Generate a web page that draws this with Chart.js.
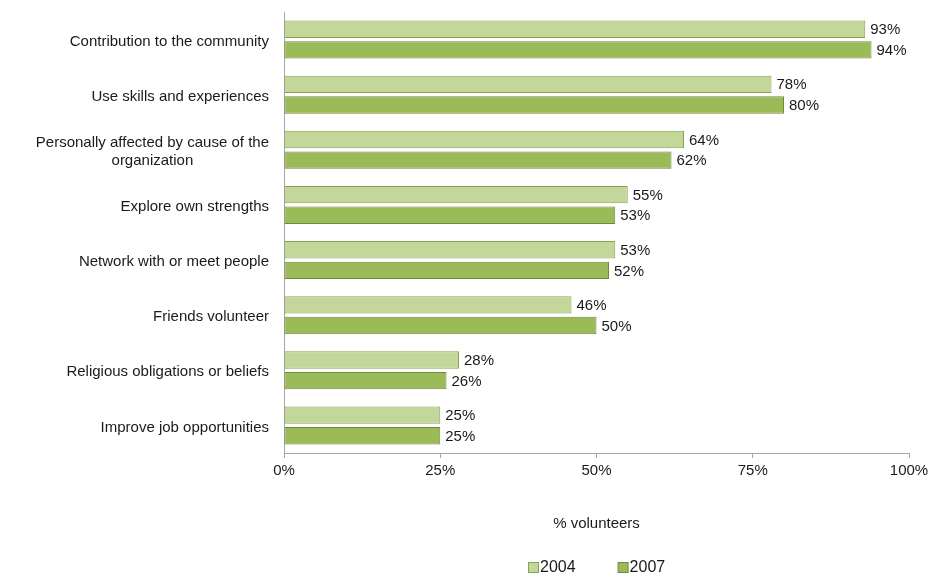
<!DOCTYPE html>
<html>
<head>
<meta charset="utf-8">
<script src="https://cdn.jsdelivr.net/npm/chart.js@4"></script>
<style>
  html, body { margin: 0; padding: 0; background: #fff; }
  #wrap { width: 930px; height: 576px; }
</style>
</head>
<body>
<div id="wrap"><canvas id="motivosCanvas" width="930" height="576"></canvas></div>
<script>
const categorias = [
    ['Contribution to the community'],
    ['Use skills and experiences'],
    ['Personally affected by cause of the', 'organization'],
    ['Explore own strengths'],
    ['Network with or meet people'],
    ['Friends volunteer'],
    ['Religious obligations or beliefs'],
    ['Improve job opportunities']
];
const valores2004 = [93, 78, 64, 55, 53, 46, 28, 25];
const valores2007 = [94, 80, 62, 53, 52, 50, 26, 25];
const ticksX = [0, 25, 50, 75, 100];

const fuente = '"Liberation Sans", Arial, sans-serif';
const colorTexto = '#1a1a1a';

// etiquetas de valor al final de cada barra
const etiquetasPlugin = {
    id: 'etiquetas',
    afterDatasetsDraw(chart) {
        const ctx = chart.ctx;
        ctx.save();
        ctx.font = '15px ' + fuente;
        ctx.fillStyle = colorTexto;
        ctx.textAlign = 'left';
        ctx.textBaseline = 'middle';
        chart.data.datasets.forEach((ds, i) => {
            chart.getDatasetMeta(i).data.forEach((bar, j) => {
                ctx.fillText(ds.data[j] + '%', bar.x + 5, bar.y + 1);
            });
        });
        ctx.restore();
    }
};

// etiquetas del eje y: bloque alineado a la derecha, lineas centradas
const ejeYPlugin = {
    id: 'ejeY',
    afterDraw(chart) {
        const ctx = chart.ctx;
        const y = chart.scales.y;
        ctx.save();
        ctx.font = '15px ' + fuente;
        ctx.fillStyle = colorTexto;
        ctx.textBaseline = 'middle';
        ctx.textAlign = 'center';
        const derecha = y.right - 15;
        categorias.forEach((lineas, i) => {
            const cy = y.getPixelForTick(i) + 2;
            const ancho = Math.max(...lineas.map(l => ctx.measureText(l).width));
            const centro = derecha - ancho / 2;
            const inicio = cy - (lineas.length - 1) * 18 / 2;
            lineas.forEach((l, k) => ctx.fillText(l, centro, inicio + k * 18));
        });
        ctx.restore();
    }
};

// leyenda abajo, centrada bajo el area del grafico
const leyendaPlugin = {
    id: 'leyenda',
    afterDraw(chart) {
        const ctx = chart.ctx;
        const area = chart.chartArea;
        ctx.save();
        ctx.font = '16px ' + fuente;
        ctx.textBaseline = 'middle';
        ctx.textAlign = 'left';
        const sep = 42;
        const anchos = chart.data.datasets.map(ds => 12 + ctx.measureText(ds.label).width);
        const total = anchos.reduce((a, b) => a + b, 0) + sep * (anchos.length - 1);
        let x = Math.round((area.left + area.right) / 2 - total / 2);
        const y = 567;
        chart.data.datasets.forEach((ds, i) => {
            ctx.fillStyle = ds.backgroundColor;
            ctx.fillRect(x + 0.5, y - 4.5, 10, 10);
            ctx.strokeStyle = ds.borderColor;
            ctx.lineWidth = 1;
            ctx.strokeRect(x + 0.5, y - 4.5, 10, 10);
            ctx.fillStyle = colorTexto;
            ctx.fillText(ds.label, x + 12, y + 1);
            x += anchos[i] + sep;
        });
        ctx.restore();
    }
};

const ctx = document.getElementById('motivosCanvas').getContext('2d');
new Chart(ctx, {
    type: 'bar',
    data: {
        labels: categorias,
        datasets: [{
            label: '2004',
            data: valores2004,
            backgroundColor: '#C4D79B',
            borderColor: '#87A34F',
            borderWidth: 1,
            borderSkipped: false,
            categoryPercentage: 0.75,
            barPercentage: 0.84
        }, {
            label: '2007',
            data: valores2007,
            backgroundColor: '#9BBB59',
            borderColor: '#71893F',
            borderWidth: 1,
            borderSkipped: false,
            categoryPercentage: 0.75,
            barPercentage: 0.84
        }]
    },
    options: {
        indexAxis: 'y',
        responsive: false,
        animation: false,
        layout: {
            padding: { top: 12, right: 21, left: 0, bottom: 0 }
        },
        scales: {
            x: {
                min: 0,
                max: 100,
                afterBuildTicks: scale => { scale.ticks = ticksX.map(v => ({ value: v })); },
                afterFit: scale => {
                    scale.height = 123;
                    scale.paddingRight = 0;
                    scale.paddingLeft = 0;
                },
                ticks: {
                    callback: v => v + '%',
                    color: colorTexto,
                    font: { family: fuente, size: 15 },
                    padding: 4,
                    maxRotation: 0
                },
                grid: {
                    drawOnChartArea: false,
                    drawTicks: true,
                    tickLength: 5,
                    color: '#A6A6A6'
                },
                border: { color: '#A6A6A6', width: 1 },
                title: {
                    display: true,
                    text: '% volunteers',
                    color: colorTexto,
                    font: { family: fuente, size: 15 },
                    padding: { top: 34, bottom: 43 }
                }
            },
            y: {
                ticks: { display: false },
                grid: { display: false, drawTicks: false },
                border: { color: '#A6A6A6', width: 1 },
                afterFit: scale => { scale.width = 284; }
            }
        },
        plugins: {
            legend: { display: false },
            tooltip: { enabled: false }
        }
    },
    plugins: [etiquetasPlugin, ejeYPlugin, leyendaPlugin]
});
</script>
</body>
</html>
